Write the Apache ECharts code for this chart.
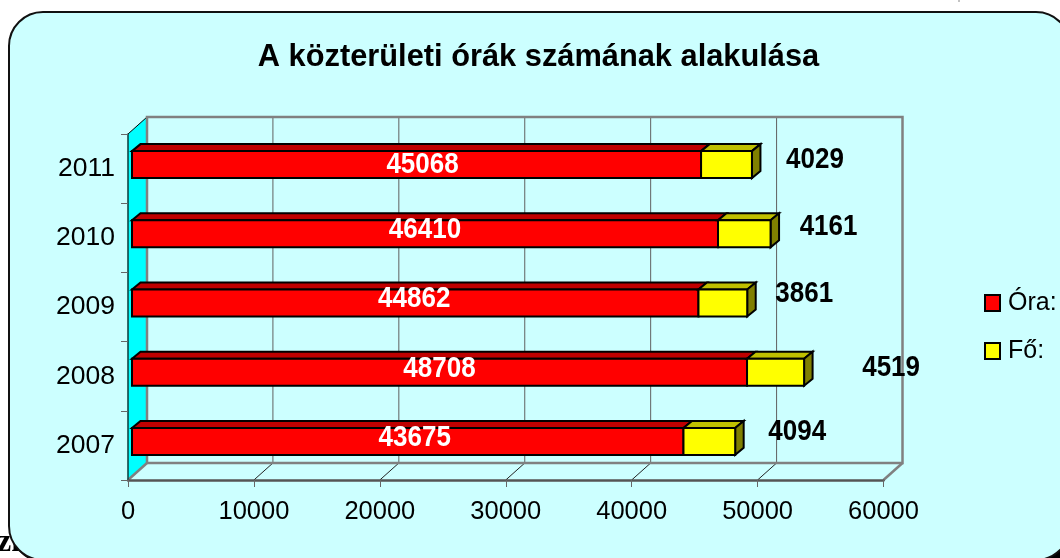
<!DOCTYPE html>
<html><head><meta charset="utf-8">
<style>html,body{margin:0;padding:0;background:#fff}#c{width:1060px;height:558px}</style>
<script src="https://cdn.jsdelivr.net/npm/echarts@6/dist/echarts.min.js"></script>
</head><body><div id="c"></div>
<script>
const chartTitle = 'A közterületi órák számának alakulása';
const categories = ['2007', '2008', '2009', '2010', '2011'];
const oraValues = [43675, 48708, 44862, 46410, 45068];
const foValues = [4094, 4519, 3861, 4161, 4029];
const xTicks = [0, 10000, 20000, 30000, 40000, 50000, 60000];

// layout only: hand-moved data labels of the source chart, [dx, dy] in px
const oraLabelNudge = [[7, -3], [0, -3], [-1, -4], [0, -4], [6, 0]];
const foLabelNudge = [[62, -9], [87, -4], [57, -9], [58, -7], [63, -5]];

const FONT = '"Liberation Sans", Arial, sans-serif';
const WALL = [19, -17];     // depth of chart box
const BAR_SHIFT = [4, -4];  // front plane of bars vs axis plane
const BAR_STRETCH = 1.0028; // bars sit on a plane slightly nearer than the axis
const BAR_DEPTH = [8.5, -7];
const BAR_HALF = 0.195;     // half bar height as share of band

function poly(pts, fill, lw) {
  return {type: 'polygon', shape: {points: pts},
    style: {fill: fill, stroke: '#000', lineWidth: lw === undefined ? 2 : lw, lineJoin: 'miter'}};
}
function barRenderer(colors, textColor, nudges, withSide) {
  return function (params, api) {
    const cat = api.value(2), idx = params.dataIndex;
    const zero = api.coord([0, cat])[0];
    const a = api.coord([api.value(0), cat]), b = api.coord([api.value(1), cat]);
    const h = api.size([0, 1])[1] * BAR_HALF;
    const x0 = zero + (a[0] - zero) * BAR_STRETCH + BAR_SHIFT[0];
    const x1 = zero + (b[0] - zero) * BAR_STRETCH + BAR_SHIFT[0];
    const yc = a[1] + BAR_SHIFT[1];
    const dx = BAR_DEPTH[0], dy = BAR_DEPTH[1], t = yc - h, u = yc + h;
    const kids = [
      poly([[x0, t], [x1, t], [x1 + dx, t + dy], [x0 + dx, t + dy]], colors[1])
    ];
    if (withSide) kids.push(poly([[x1, t], [x1 + dx, t + dy], [x1 + dx, u + dy], [x1, u]], colors[2]));
    kids.push(poly([[x0, t], [x1, t], [x1, u], [x0, u]], colors[0]));
    const n = nudges[idx];
    kids.push({type: 'text', z2: 20,
      x: (withSide ? x1 : (x0 + x1) / 2) + n[0], y: yc + n[1], scaleY: 1.12,
      style: {text: String(api.value(3)), x: 0, y: 0,
        align: 'center', verticalAlign: 'middle', fill: textColor,
        font: 'bold 26px ' + FONT}});
    return {type: 'group', children: kids};
  };
}
function wallRenderer(params, api) {
  const c = params.coordSys, L = c.x, T = c.y, R = c.x + c.width, B = c.y + c.height;
  const wx = WALL[0], wy = WALL[1];
  const kids = [
    {type: 'polygon', shape: {points: [[L, T], [L + wx, T + wy], [L + wx, B + wy], [L, B]]},
      style: {fill: '#00FFFF', stroke: null}},
    {type: 'line', shape: {x1: L, y1: T, x2: L + wx, y2: T + wy}, style: {stroke: '#000', lineWidth: 1}}
  ];
  xTicks.forEach(function (tv, i) {
    const x = api.coord([tv, 0])[0];
    if (i > 0 && i < xTicks.length - 1) {
      kids.push({type: 'line', shape: {x1: x + wx, y1: T + wy, x2: x + wx, y2: B + wy}, style: {stroke: '#606060', lineWidth: 1}});
      kids.push({type: 'line', shape: {x1: x, y1: B, x2: x + wx, y2: B + wy}, style: {stroke: '#222', lineWidth: 1}});
    }
  });
  kids.push({type: 'polyline', shape: {points: [[L + wx, B + wy], [L + wx, T + wy], [R + wx, T + wy], [R + wx, B + wy], [L + wx, B + wy]]},
    style: {fill: null, stroke: '#808080', lineWidth: 2.5}});
  kids.push({type: 'polyline', shape: {points: [[L, B], [L + wx, B + wy]]}, style: {stroke: '#808080', lineWidth: 2.5}});
  kids.push({type: 'polyline', shape: {points: [[R, B], [R + wx, B + wy]]}, style: {stroke: '#808080', lineWidth: 2.5}});
  return {type: 'group', children: kids};
}

const oraData = categories.map((c, i) => [0, oraValues[i], i, oraValues[i]]);
const foData = categories.map((c, i) => [oraValues[i], oraValues[i] + foValues[i], i, foValues[i]]);

const chart = echarts.init(document.getElementById('c'), null, {renderer: 'canvas'});
chart.setOption({
  animation: false,
  backgroundColor: '#fff',
  textStyle: {fontFamily: FONT},
  title: {text: chartTitle, left: 533.5, top: 37, textAlign: 'center',
    textStyle: {fontFamily: FONT, fontWeight: 'bold', fontSize: 30.8, color: '#000'}},
  grid: {left: 128, top: 134, width: 755.5, height: 346, containLabel: false},
  xAxis: {type: 'value', min: 0, max: 60000, interval: 10000, z: 3,
    splitLine: {show: false},
    axisLine: {show: true, lineStyle: {color: '#555', width: 2.5}},
    axisTick: {show: true, length: 7, lineStyle: {color: '#666', width: 1}},
    axisLabel: {margin: 19, fontSize: 25.5, color: '#000', fontFamily: FONT, hideOverlap: false,
      formatter: function (v) { return String(v); }}},
  yAxis: {type: 'category', data: categories, z: 3,
    axisLine: {show: true, lineStyle: {color: '#0a3a3a', width: 1.5}},
    axisTick: {show: true, length: 7, alignWithLabel: false, lineStyle: {color: '#666', width: 1}},
    axisLabel: {margin: 13, fontSize: 26.5, color: '#000', fontFamily: FONT}},
  legend: {orient: 'vertical', left: 984, top: 288, padding: 0, itemWidth: 15, itemHeight: 16, itemGap: 18,
    data: [
      {name: 'Óra:', icon: 'rect', itemStyle: {color: '#FF0000', borderColor: '#000', borderWidth: 2}},
      {name: 'Fő:', icon: 'rect', itemStyle: {color: '#FFFF00', borderColor: '#000', borderWidth: 2}}
    ],
    textStyle: {fontFamily: FONT, fontSize: 25, color: '#000', lineHeight: 30, padding: [0, 0, 0, 3]}},
  graphic: [
    {type: 'text', z: -20, left: -3, top: 527, style: {text: 'zk', font: 'bold 32px "Liberation Serif", serif', fill: '#000'}},
    {type: 'line', z: -20, shape: {x1: 959, y1: 0, x2: 959, y2: 2}, style: {stroke: '#888', lineWidth: 1}},
    {type: 'rect', z: -12, shape: {x: 900, y: 450, width: 200, height: 150}, style: {fill: '#000'}},
    {type: 'rect', z: -11, shape: {x: 11, y: 15, width: 1059, height: 548, r: 34},
      style: {fill: '#000'}},
    {type: 'rect', z: -10, shape: {x: 9, y: 12, width: 1061, height: 548, r: 34},
      style: {fill: '#CCFFFF', stroke: '#111', lineWidth: 2}}
  ],
  series: [
    {type: 'custom', name: 'wall', silent: true, z: 1, coordinateSystem: 'cartesian2d',
      renderItem: wallRenderer, data: [[0, 0]], encode: {x: 0, y: 1}},
    {type: 'custom', name: 'Óra:', z: 4, coordinateSystem: 'cartesian2d', silent: true,
      itemStyle: {color: '#FF0000'},
      renderItem: barRenderer(['#FF0000', '#BF0000'], '#fff', oraLabelNudge, false),
      data: oraData, encode: {x: [0, 1], y: 2}},
    {type: 'custom', name: 'Fő:', z: 5, coordinateSystem: 'cartesian2d', silent: true,
      itemStyle: {color: '#FFFF00'},
      renderItem: barRenderer(['#FFFF00', '#BFBF00', '#808000'], '#000', foLabelNudge, true),
      data: foData, encode: {x: [0, 1], y: 2}}
  ]
});
</script></body></html>
